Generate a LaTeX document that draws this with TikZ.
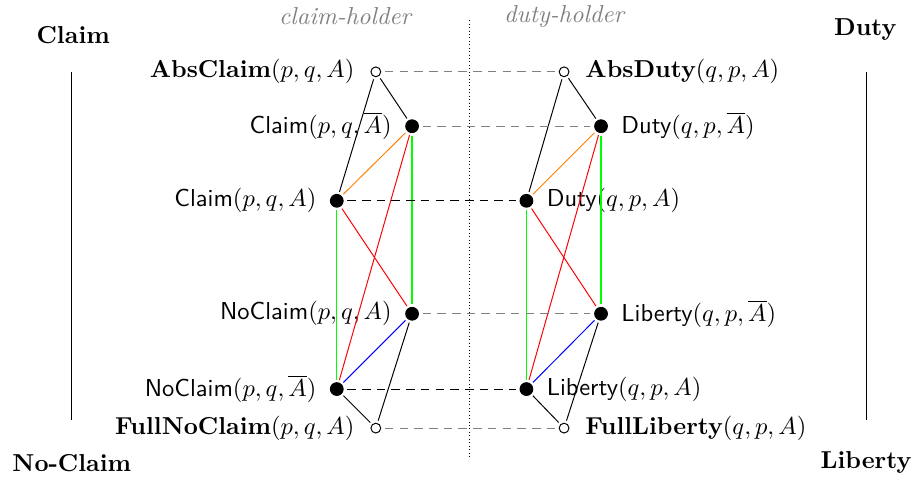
\documentclass[tikz,border=0pt]{standalone}
\usepackage{amsmath,amssymb}
\begin{document}
\begin{tikzpicture}[
			solid node/.style={circle,draw,fill=black,inner sep=0pt,minimum size=5.2pt},
			hollow node/.style={circle,draw,fill=white,inner sep=0pt,minimum size=4pt},
			link/.style={shorten <=1pt,shorten >=1pt},
			corr/.style={dash pattern=on 3.5pt off 2.5pt,shorten <=1.5pt,shorten >=1.5pt},
			corner/.style={font=\bfseries},
			holder/.style={gray,font=\itshape},
			label distance=2pt
			]
			\useasboundingbox (0,0) rectangle (13.08,-6.87);
			
			% claim-holder side
			\node[hollow node, label={[label distance=3pt]left:{\textbf{AbsClaim}$(p,q,A)$}}] (absclaim) at (5.39,-1.03) {};
			\node[solid node, label={left:{\textsf{Claim}$(p,q,\overline{A})$}}] (claimbar) at (5.91,-1.81) {};
			\node[solid node, label={left:{\textsf{Claim}$(p,q,A)$}}] (claim) at (4.83,-2.88) {};
			\node[solid node, label={left:{\textsf{NoClaim}$(p,q,A)$}}] (noclaim) at (5.91,-4.50) {};
			\node[solid node, label={left:{\textsf{NoClaim}$(p,q,\overline{A})$}}] (noclaimbar) at (4.83,-5.58) {};
			\node[hollow node, label={[label distance=3pt]left:{\textbf{FullNoClaim}$(p,q,A)$}}] (fullnoclaim) at (5.39,-6.14) {};
			
			% duty-holder side
			\node[hollow node, label={[label distance=3pt]right:{\textbf{AbsDuty}$(q,p,A)$}}] (absduty) at (8.09,-1.03) {};
			\node[solid node, label={right:{\textsf{Duty}$(q,p,\overline{A})$}}] (dutybar) at (8.62,-1.81) {};
			\node[solid node, label={right:{\textsf{Duty}$(q,p,A)$}}] (duty) at (7.55,-2.88) {};
			\node[solid node, label={right:{\textsf{Liberty}$(q,p,\overline{A})$}}] (libertybar) at (8.62,-4.50) {};
			\node[solid node, label={right:{\textsf{Liberty}$(q,p,A)$}}] (liberty) at (7.55,-5.58) {};
			\node[hollow node, label={[label distance=3pt]right:{\textbf{FullLiberty}$(q,p,A)$}}] (fullliberty) at (8.09,-6.14) {};
			
			% the two hexagons
			\foreach \top/\ur/\ul/\lr/\ll/\bot in {absclaim/claimbar/claim/noclaim/noclaimbar/fullnoclaim, absduty/dutybar/duty/libertybar/liberty/fullliberty}{
				\draw[link] (\top) -- (\ur);
				\draw[link] (\top) -- (\ul);
				\draw[link, orange] (\ul) -- (\ur);
				\draw[link, red] (\ur) -- (\ll);
				\draw[link, red] (\ul) -- (\lr);
				\draw[link, green, line width=0.55pt] (\ul) -- (\ll);
				\draw[link, green, line width=0.55pt] (\ur) -- (\lr);
				\draw[link, blue] (\ll) -- (\lr);
				\draw[link] (\bot) -- (\ll);
				\draw[link] (\bot) -- (\lr);
			}
			
			% correspondences
			\draw[corr, gray] (absclaim) -- (absduty);
			\draw[corr, gray] (claimbar) -- (dutybar);
			\draw[corr] (claim) -- (duty);
			\draw[corr, gray] (noclaim) -- (libertybar);
			\draw[corr] (noclaimbar) -- (liberty);
			\draw[corr, gray] (fullnoclaim) -- (fullliberty);
			
			% frame
			\coordinate (midtop) at (6.73,-0.29);
			\coordinate (midbot) at (6.73,-6.57);
			\draw[densely dotted] (midtop) -- (midbot);
			\node[holder] (claimholder) at (4.95,-0.23) {claim-holder};
			\node[holder] (dutyholder) at (8.09,-0.23) {duty-holder};
			
			\node[corner] (claimcorner) at (1.05,-0.50) {Claim};
			\node[corner] (dutycorner) at (12.41,-0.43) {Duty};
			\node[corner] (noclaimcorner) at (1.03,-6.64) {No-Claim};
			\node[corner] (libertycorner) at (12.42,-6.63) {Liberty};
			\coordinate (lefttop) at (1.03,-1.03);
			\coordinate (leftbot) at (1.03,-6.03);
			\coordinate (righttop) at (12.42,-1.03);
			\coordinate (rightbot) at (12.42,-6.03);
			\draw (lefttop) -- (leftbot);
			\draw (righttop) -- (rightbot);
		\end{tikzpicture}
\end{document}
